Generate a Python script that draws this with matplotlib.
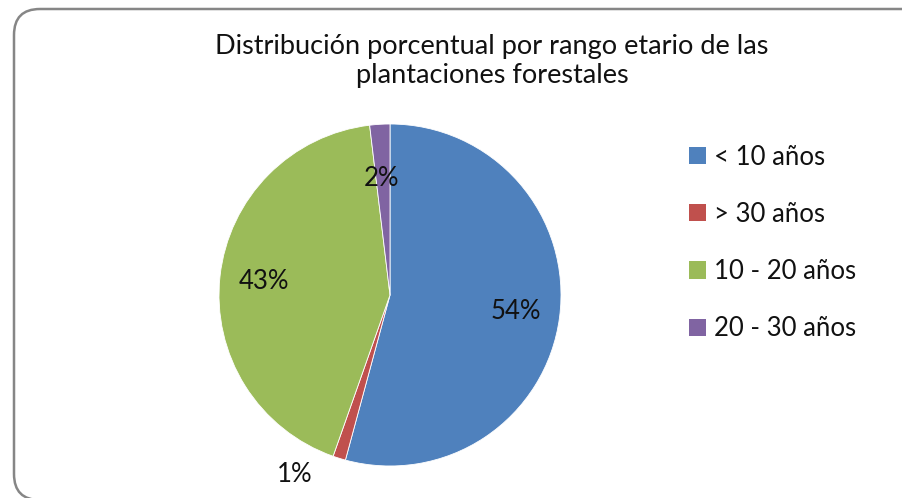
import numpy as np
import matplotlib.pyplot as plt
from matplotlib.patches import FancyBboxPatch, Patch

plt.rcParams['font.family'] = ['Lato', 'DejaVu Sans']

categories = ["< 10 años", "> 30 años", "10 - 20 años", "20 - 30 años"]
values = [54.2, 1.2, 42.7, 1.9]
colors = ["#4F81BD", "#C0504D", "#9BBB59", "#8064A2"]
title = "Distribución porcentual por rango etario de las\nplantaciones forestales"

W, H = 902, 498
fig = plt.figure(figsize=(W / 100, H / 100), dpi=100)

# background axes in pixel units for the rounded chart frame
bg = fig.add_axes([0, 0, 1, 1], zorder=-5)
bg.set_xlim(0, W)
bg.set_ylim(H, 0)
bg.axis('off')
frame = FancyBboxPatch((14, 9), 940 - 14, 500 - 9,
                       boxstyle="round,pad=0,rounding_size=26",
                       facecolor='white', edgecolor='#868686', linewidth=1.8,
                       clip_on=False)
bg.add_patch(frame)

fig.text(492 / W, 1 - 61 / H, title, ha='center', va='center',
         fontsize=19.5, linespacing=1.2, color='#111111')

cx, cy, r = 390, 295, 171
ax = fig.add_axes([(cx - r) / W, (H - cy - r) / H, 2 * r / W, 2 * r / H])
ax.patch.set_visible(False)
wedges, texts, autotexts = ax.pie(values, colors=colors, startangle=90,
                                  counterclock=False, autopct='%.0f%%',
                                  pctdistance=0.74,
                                  wedgeprops=dict(edgecolor='white', linewidth=0.6),
                                  textprops=dict(fontsize=18.5, color='#111111'))
ax.set_aspect('equal')
ax.set_xlim(-1, 1)
ax.set_ylim(-1, 1)

# small slice label sits outside
autotexts[1].set_position((-0.56, -1.05))
autotexts[3].set_position((-0.05, 0.68))

handles = [Patch(facecolor=c, edgecolor='none') for c in colors]
fig.legend(handles, categories, loc='center left',
           bbox_to_anchor=(666 / W, 1 - 243 / H), frameon=False,
           prop=dict(size=18.5), labelcolor='#111111', handlelength=0.65,
           handleheight=0.65, handletextpad=0.3, labelspacing=1.25)

fig.savefig('out.png', dpi=100)
